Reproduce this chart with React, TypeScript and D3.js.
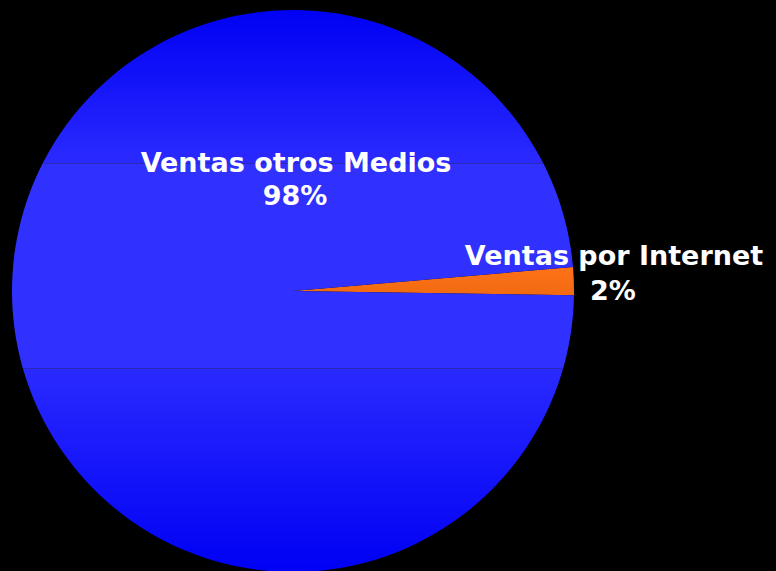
import React, { useMemo } from "react";
import * as d3 from "d3";

const categories = ["Ventas por Internet", "Ventas otros Medios"];
const values = [1.6, 98.4];
const percentLabels = ["2%", "98%"];

const W = 776;
const H = 571;
const cx = 293;
const cy = 291;
const R = 281;

export default function App() {
  const arcs = useMemo(() => {
    const pie = d3
      .pie<number>()
      .sort(null)
      .startAngle((85.1 * Math.PI) / 180)
      .endAngle((85.1 * Math.PI) / 180 + 2 * Math.PI);
    return pie(values);
  }, []);
  const arc = d3.arc<d3.PieArcDatum<number>>().innerRadius(0).outerRadius(R);
  const off = (y: number) => (y - (cy - R)) / (2 * R);

  return (
    <div style={{ position: "fixed", left: 0, top: 0, width: W, height: H, background: "#000" }}>
      <svg width={W} height={H} style={{ display: "block" }}>
        <defs>
          <linearGradient id="blueGrad" gradientUnits="userSpaceOnUse" x1="0" y1={-R} x2="0" y2={R}>
            <stop offset="0" stopColor="#0000f4" />
            <stop offset={off(163)} stopColor="#2a2aff" />
            <stop offset={off(164)} stopColor="#3030ff" />
            <stop offset={off(367)} stopColor="#3030ff" />
            <stop offset={off(369)} stopColor="#2a2aff" />
            <stop offset="1" stopColor="#0000f4" />
          </linearGradient>
          <linearGradient id="orangeGrad" gradientUnits="userSpaceOnUse" x1="0" y1={-25} x2="0" y2={7}>
            <stop offset="0" stopColor="#ff7218" />
            <stop offset="1" stopColor="#f06a10" />
          </linearGradient>
          <clipPath id="circ">
            <circle cx={cx} cy={cy} r={R} />
          </clipPath>
        </defs>
        <rect x={0} y={0} width={W} height={H} fill="#000" />
        <g transform={`translate(${cx},${cy})`}>
          {arcs.map((a, i) => (
            <path key={categories[i]} d={arc(a) || ""} fill={i === 0 ? "url(#orangeGrad)" : "url(#blueGrad)"} />
          ))}
        </g>
        <g clipPath="url(#circ)">
          <line x1={0} x2={W} y1={163.5} y2={163.5} stroke="#2a2ab8" strokeWidth={1} />
          <line x1={0} x2={W} y1={368.5} y2={368.5} stroke="#2a2ab8" strokeWidth={1} />
        </g>
        <g fontFamily="'DejaVu Sans', Verdana, sans-serif" fontWeight="bold" fontSize={27} fill="#fff" textAnchor="middle">
          <text x={296} y={172}>{categories[1]}</text>
          <text x={295} y={205}>{percentLabels[1]}</text>
          <text x={614} y={265}>{categories[0]}</text>
          <text x={613} y={300}>{percentLabels[0]}</text>
        </g>
      </svg>
    </div>
  );
}
